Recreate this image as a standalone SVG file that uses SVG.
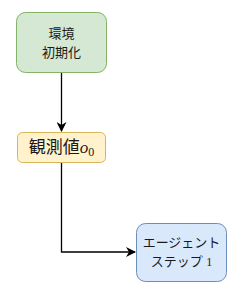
<svg xmlns="http://www.w3.org/2000/svg" width="244" height="297" viewBox="0 0 244 297">
<style>
.t{font-family:"Liberation Sans","Noto Sans CJK JP",sans-serif;font-size:13px;fill:#1a1a1a;text-anchor:middle}
.e{stroke:#000;stroke-width:1.3;fill:none}
</style>
<defs>
<marker id="ah" markerWidth="10" markerHeight="10" refX="9" refY="5" orient="auto" markerUnits="userSpaceOnUse">
<path d="M0,0 L10,5 L0,10 L3,5 Z" fill="#000"/>
</marker>
</defs>
<rect width="244" height="297" fill="#fff"/>
<g id="connectors">
<path class="e" d="M61.5,73 V131" marker-end="url(#ah)"/>
<path class="e" d="M61.5,163 V252 H135" marker-end="url(#ah)"/>
</g>
<g id="env">
<rect x="16.5" y="12.5" width="90" height="60" rx="9" fill="#d5e8d4" stroke="#82b366"/>
<text class="t" x="61.5" y="38">環境</text>
<text class="t" x="61.5" y="57">初期化</text>
</g>
<g id="obs">
<rect x="17.5" y="132.5" width="88" height="30" rx="5" fill="#fff2cc" stroke="#d6b656"/>
<text x="61.5" y="153" style="font-family:'Liberation Serif','Noto Sans CJK JP',serif;font-size:17px;fill:#1a1a1a;text-anchor:middle">観測値<tspan font-style="italic">o</tspan><tspan font-size="12" dy="3">0</tspan></text>
</g>
<g id="agent">
<rect x="136.5" y="223.5" width="90" height="58" rx="9" fill="#dae8fc" stroke="#6c8ebf"/>
<text class="t" x="181.5" y="247">エージェント</text>
<text class="t" x="181.5" y="266">ステップ <tspan style="font-family:'Liberation Serif',serif;font-size:12px">1</tspan></text>
</g>
</svg>
